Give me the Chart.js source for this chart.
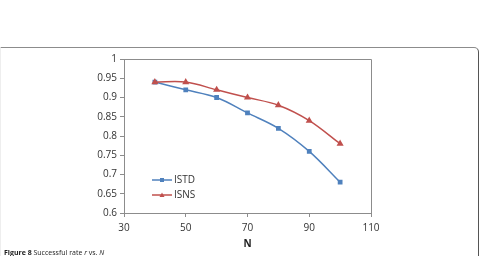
<!DOCTYPE html>
<html>
<head>
<meta charset="utf-8">
<script src="https://cdn.jsdelivr.net/npm/chart.js@4.4.0/dist/chart.umd.min.js"></script>
<style>
  body { margin: 0; background: #fff; }
  #wrap { position: relative; width: 480px; height: 256px; overflow: hidden; }
  #frame { position: absolute; left: 0; top: 47px; width: 477px; height: 230px;
           border-top: 1px solid #8c8c8c; border-right: 1px solid #555;
           border-left: 1px solid #eee; border-top-right-radius: 5px; }
  #caption { position: absolute; left: 4px; top: 248px; font: 7px "Open Sans", sans-serif; color: #222; }
  canvas { position: absolute; left: 0; top: 0; }
</style>
</head>
<body>
<div id="wrap">
  <div id="frame"></div>
  <canvas id="chart"></canvas>
  <div id="caption"><b>Figure 8</b> Successful rate <i>r</i> vs. <i>N</i></div>
</div>
<script>
var nValues = [40, 50, 60, 70, 80, 90, 100];
var istd = [0.94, 0.92, 0.90, 0.86, 0.82, 0.76, 0.68];
var isns = [0.94, 0.94, 0.92, 0.90, 0.88, 0.84, 0.78];
var seriesNames = ["ISTD", "ISNS"];

function toPoints(xs, ys) {
    var pts = [];
    for (var i = 0; i < xs.length; i++) {
        pts.push({x: xs[i], y: ys[i]});
    }
    return pts;
}

// plot border (top/right) + legend inside the plot
var extras = {
    id: 'extras',
    afterDraw: function(chart) {
        var ctx = chart.ctx;
        var a = chart.chartArea;
        ctx.save();
        ctx.strokeStyle = "#8c8c8c";
        ctx.lineWidth = 1;
        ctx.beginPath();
        ctx.moveTo(a.left, a.top + 0.5);
        ctx.lineTo(a.right + 0.5, a.top + 0.5);
        ctx.lineTo(a.right + 0.5, a.bottom);
        ctx.stroke();

        chart.data.datasets.forEach(function(ds, i) {
            var y = a.top + 121 + i * 15;
            var x0 = a.left + 28;
            ctx.strokeStyle = ds.borderColor;
            ctx.lineWidth = 1.5;
            ctx.beginPath();
            ctx.moveTo(x0, y);
            ctx.lineTo(x0 + 20, y);
            ctx.stroke();
            ctx.fillStyle = ds.backgroundColor;
            if (ds.pointStyle === 'rect') {
                ctx.fillRect(x0 + 8, y - 2, 4, 4);
            } else {
                ctx.beginPath();
                ctx.moveTo(x0 + 10, y - 2.5);
                ctx.lineTo(x0 + 12.5, y + 2);
                ctx.lineTo(x0 + 7.5, y + 2);
                ctx.closePath();
                ctx.fill();
            }
            ctx.fillStyle = "#333";
            ctx.font = "10px 'Open Sans', sans-serif";
            ctx.textBaseline = "middle";
            ctx.fillText(ds.label, x0 + 22, y);
        });
        ctx.restore();
    }
};

var ctx = document.getElementById("chart").getContext('2d');
ctx.canvas.width = 480;
ctx.canvas.height = 256;
var myChart = new Chart(ctx, {
    type: 'line',
    data: {
        datasets: [{
            label: seriesNames[0],
            data: toPoints(nValues, istd),
            borderColor: "#4f81bd",
            backgroundColor: "#4f81bd",
            borderWidth: 1.5,
            pointStyle: 'rect',
            pointRadius: 2.3,
            tension: 0.35,
            order: 1
        }, {
            label: seriesNames[1],
            data: toPoints(nValues, isns),
            borderColor: "#c0504d",
            backgroundColor: "#c0504d",
            borderWidth: 1.5,
            pointStyle: 'triangle',
            pointRadius: 2.6,
            tension: 0.35,
            order: 0
        }]
    },
    options: {
        responsive: false,
        animation: false,
        layout: { padding: { left: 0, right: 109, top: 59, bottom: 0 } },
        plugins: { legend: { display: false }, tooltip: { enabled: false } },
        scales: {
            x: {
                type: 'linear',
                min: 30, max: 110,
                ticks: { stepSize: 20, color: "#333", padding: 5, font: { family: "Open Sans", size: 10 } },
                grid: { drawOnChartArea: false, tickLength: 4, color: "#8c8c8c" },
                border: { color: "#8c8c8c" },
                title: { display: true, text: "N", color: "#222", padding: { top: 4, bottom: 6 },
                         font: { family: "Open Sans", size: 10, weight: 'bold' } },
                afterFit: function(s) { s.height = 43; }
            },
            y: {
                min: 0.6, max: 1,
                ticks: { stepSize: 0.05, color: "#333", padding: 3, font: { family: "Open Sans", size: 10 },
                         callback: function(v) { return +v.toFixed(2) + ""; } },
                grid: { drawOnChartArea: false, tickLength: 4, color: "#8c8c8c" },
                border: { color: "#8c8c8c" },
                afterFit: function(s) { s.width = 124; }
            }
        }
    },
    plugins: [extras]
});
</script>
</body>
</html>
